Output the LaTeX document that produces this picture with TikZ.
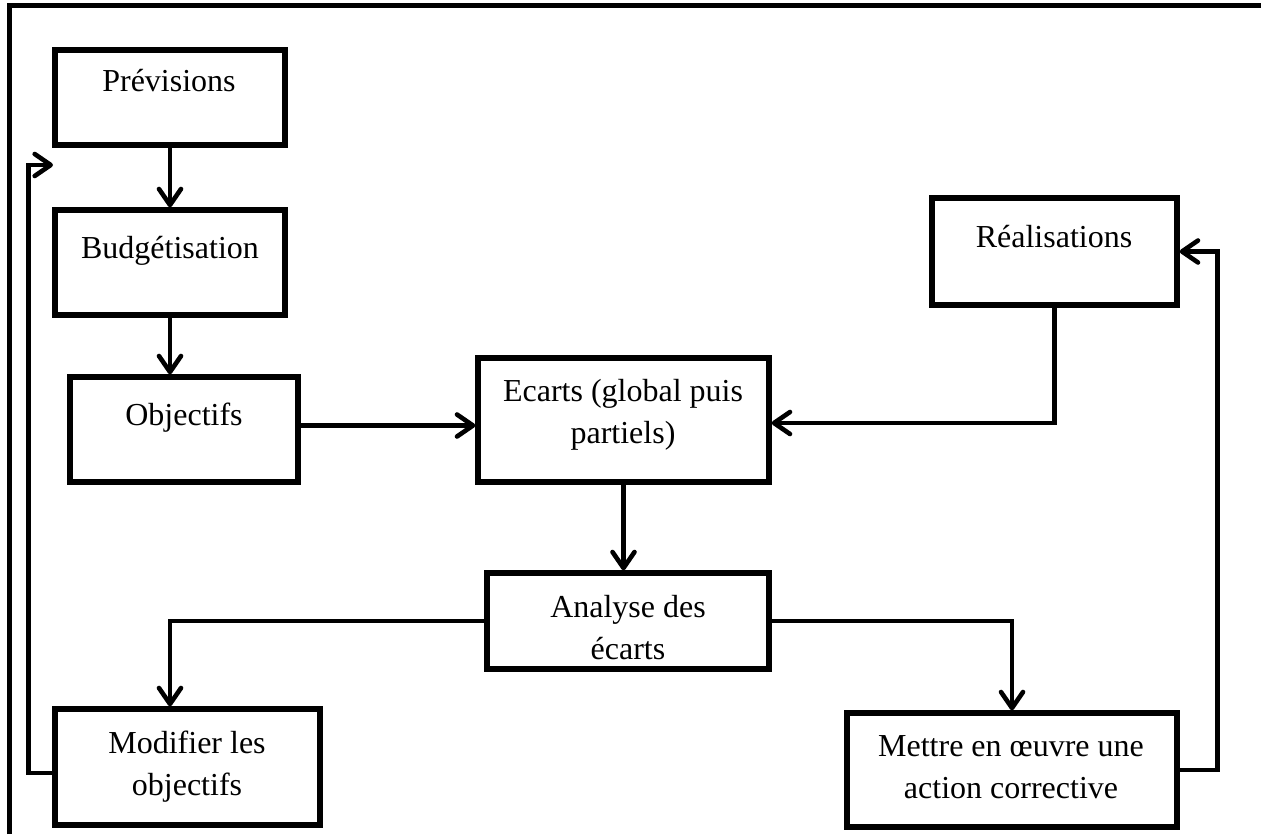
\documentclass[tikz,border=0pt]{standalone}
\usepackage{fontspec}
\setmainfont{Liberation Serif}
\usetikzlibrary{arrows.meta,fit}
\begin{document}
\begin{tikzpicture}[>={Straight Barb[length=8pt,width=11pt,round]},line width=2.3pt,x=0.5pt,y=-0.5pt,
	box/.style={draw,rectangle,inner sep=0pt,line width=2.7pt},
	txt/.style={align=center,inner sep=0pt,font=\fontsize{16}{21}\selectfont}]
	\useasboundingbox (0,0) rectangle (1261,834);
	\draw[line width=2.5pt] (9,834) -- (9,6) -- (1261,6);
	% les cadres
	\node[box,fit={(55,50) (285,145)}] (prev) {};
	\node[box,fit={(55,210) (285,315)}] (budg) {};
	\node[box,fit={(70,377) (298,482)}] (obj) {};
	\node[box,fit={(478,358) (769,482)}] (ecarts) {};
	\node[box,fit={(932,198) (1177,305)}] (real) {};
	\node[box,fit={(487,573) (769,669)}] (analyse) {};
	\node[box,fit={(55,709) (320,825)}] (modif) {};
	\node[box,fit={(847,713) (1177,827)}] (mettre) {};
	% les textes
	\node[txt,anchor=base] (prevtxt) at (169,92) {Prévisions};
	\node[txt,anchor=base] (budgtxt) at (170,258) {Budgétisation};
	\node[txt,anchor=base] (objtxt) at (184,425) {Objectifs};
	\node[txt] (ecartstxt) at (623,415) {Ecarts (global puis\\partiels)};
	\node[txt,anchor=base] (realtxt) at (1054,247) {Réalisations};
	\node[txt] (analysetxt) at (628,628) {Analyse des\\écarts};
	\node[txt] (modiftxt) at (187,767) {Modifier les\\objectifs};
	\node[txt] (mettretxt) at (1011,767) {Mettre en œuvre une\\action corrective};
	\path (53,165) coordinate (retour);
	% les fleches
	\draw[->] (prev) -- (budg);
	\draw[->] (budg.south) -- (budg.south |- obj.north);
	\draw[->] ([yshift=2pt]obj.east) -- ([yshift=2pt]obj.east -| ecarts.west);
	\draw[->] (real.south) |- ([yshift=-1.5pt]ecarts.east);
	\draw[->] (ecarts.south) -- (ecarts.south |- analyse.north);
	\draw[->] (analyse.west) -| (prev |- modif.north);
	\draw[->] (analyse.east) -| (mettre.north);
	\draw[->] ([yshift=-3pt]modif.west) -- ++(-24,0) |- (retour);
	\draw[->] (mettre.east) -- ++(38,0) |- (real.east);
\end{tikzpicture}
\end{document}
